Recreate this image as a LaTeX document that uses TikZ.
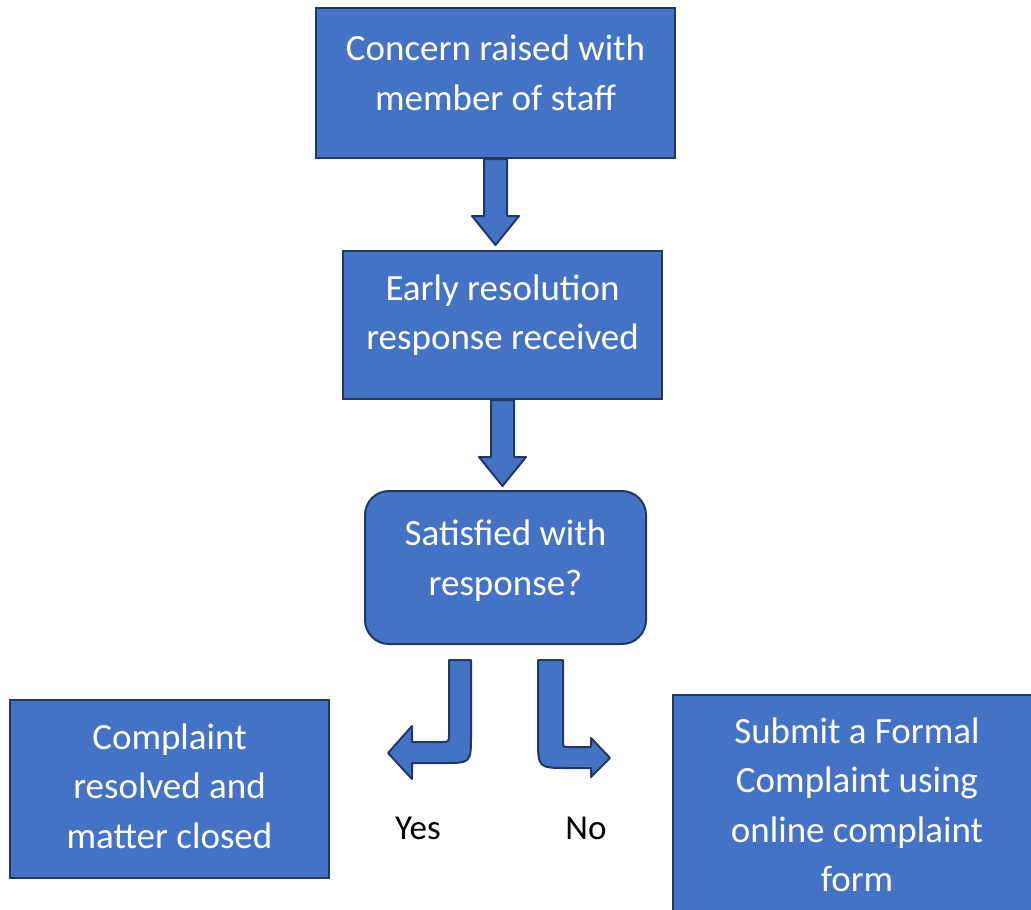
\documentclass[tikz,border=0pt]{standalone}
\usepackage{fontspec}
\setmainfont{Carlito}
\usetikzlibrary{calc}
\definecolor{boxblue}{HTML}{4472C4}
\definecolor{edgeblue}{HTML}{1F3864}
\tikzset{
  stepbox/.style={draw=edgeblue, fill=boxblue, line width=2pt, inner sep=0pt},
  boxtext/.style={text=white, align=center, font=\fontsize{37}{49.5}\selectfont},
  answer/.style={text=black, font=\fontsize{35}{40}\selectfont},
  blockarrow/.style={draw=edgeblue, fill=boxblue, line width=2pt, line join=round}
}
\begin{document}
\begin{tikzpicture}[x=1pt,y=-1pt]
  \useasboundingbox (0,0) rectangle (1031,910);

  % straight block arrow, hanging from a point
  \newcommand\dnarrow[1]{\draw[blockarrow] ($(#1)+(-11.5,0)$) -- ++(0,57) -- ++(-12,0)
    -- ++(23.5,29) -- ++(23.5,-29) -- ++(-12,0) -- ++(0,-57) -- cycle;}

  \node[stepbox, minimum width=359pt, minimum height=150pt] (concern) at (495.5,83) {};
  \node[boxtext] at ([yshift=10pt]concern.center) {Concern raised with\\member of staff};

  \node[stepbox, minimum width=319pt, minimum height=148pt] (early) at (502.5,325) {};
  \node[boxtext] at ([yshift=10pt]early.center) {Early resolution\\response received};

  \node[stepbox, rounded corners=24pt, minimum width=281pt, minimum height=153pt] (decide) at (505.5,567.5) {};
  \node[boxtext] at ([yshift=7pt]decide.center) {Satisfied with\\response?};

  \node[stepbox, minimum width=319pt, minimum height=178pt] (closed) at (169.5,789) {};
  \node[boxtext] at ([yshift=3pt]closed.center) {Complaint\\resolved and\\matter closed};

  \node[stepbox, minimum width=372pt, minimum height=230pt] (formal) at (859,810) {};
  \node[boxtext] at ([xshift=-2pt,yshift=5pt]formal.center) {Submit a Formal\\Complaint using\\online complaint\\form};

  \dnarrow{concern.south}
  \dnarrow{early.south}

  %% Yes
  \draw[blockarrow] (449,660) -- (471,660) -- (471,735) .. controls (471,763) .. (443,763)
    -- (412,763) -- (412,779) -- (388,753) -- (412,726) -- (412,742) -- (441,742)
    .. controls (449,742) .. (449,734) -- cycle;
  %% No
  \draw[blockarrow] (538,660) -- (563,660) -- (563,741) .. controls (563,747) .. (569,747)
    -- (591,747) -- (591,738) -- (610,758) -- (591,777) -- (591,768) -- (568,768)
    .. controls (538,768) .. (538,738) -- cycle;

  \node[answer] (yes) at (418,828) {Yes};
  \node[answer] (no) at (586,828) {No};
\end{tikzpicture}
\end{document}
